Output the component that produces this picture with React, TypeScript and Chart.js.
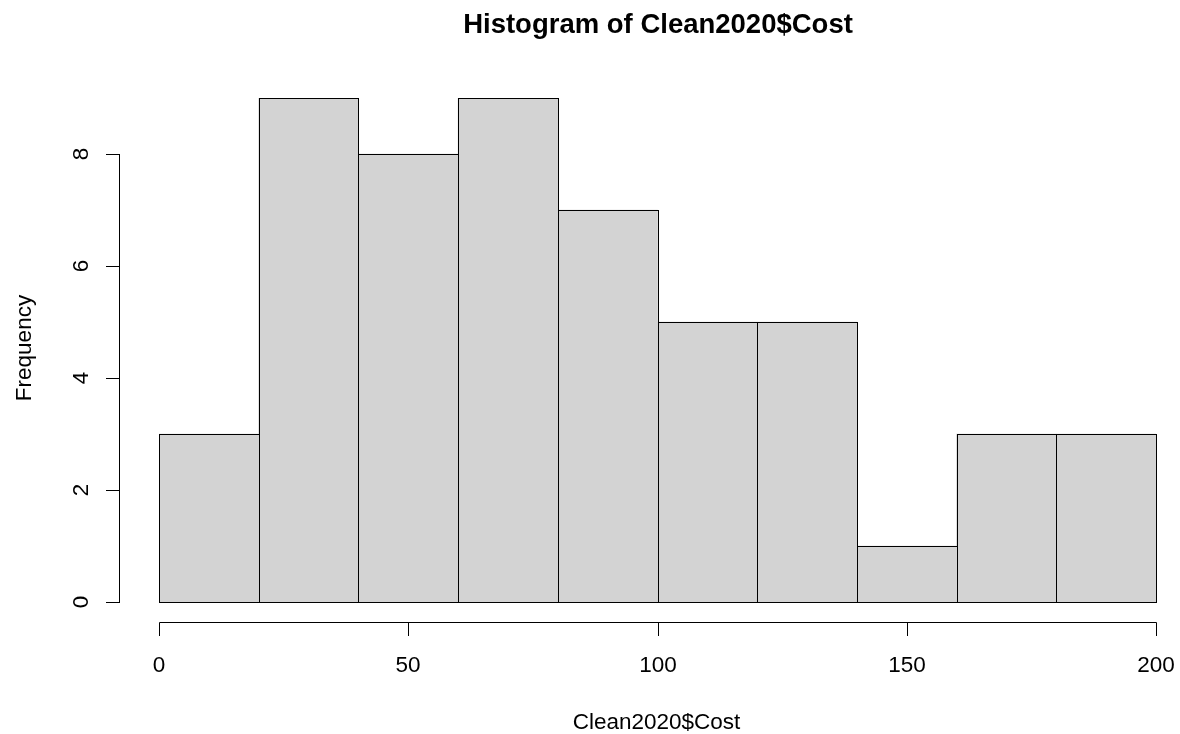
import React, { useEffect, useRef } from "react";
import { Chart, registerables } from "chart.js";

Chart.register(...registerables);

// Histogram bins (left edges), bin width and counts
const binStarts = [0, 20, 40, 60, 80, 100, 120, 140, 160, 180];
const binWidth = 20;
const frequencies = [3, 9, 8, 9, 7, 5, 5, 1, 3, 3];

// Axis tick values
const xTickValues = [0, 50, 100, 150, 200];
const yTickValues = [0, 2, 4, 6, 8];

const titleText = "Histogram of Clean2020$Cost";
const xLabel = "Clean2020$Cost";
const yLabel = "Frequency";

const FONT = '"Liberation Sans", Arial, Helvetica, sans-serif';
const LABEL_PX = 22.5;

// Outline every bar on crisp pixel rows/columns so that shared edges stay 1px
const barOutlines = {
  id: "barOutlines",
  afterDatasetsDraw(chart: any) {
    const { ctx } = chart;
    const meta = chart.getDatasetMeta(0);
    ctx.save();
    ctx.strokeStyle = "#000";
    ctx.lineWidth = 1;
    meta.data.forEach((bar: any) => {
      const { x, y, base, width } = bar.getProps(["x", "y", "base", "width"], true);
      const l = Math.round(x - width / 2) + 0.5;
      const r = Math.round(x + width / 2) + 0.5;
      const t = Math.round(y) + 0.5;
      const b = Math.round(base) + 0.5;
      ctx.strokeRect(l, t, r - l, b - t);
    });
    ctx.restore();
  },
};

// Detached axes, tick labels, title and axis titles
const detachedAxes = {
  id: "detachedAxes",
  afterDraw(chart: any) {
    const { ctx, chartArea, scales } = chart;
    const xs = scales.x;
    const ys = scales.y;
    ctx.save();
    ctx.strokeStyle = "#000";
    ctx.lineWidth = 1;
    ctx.fillStyle = "#000";

    // x axis
    const axisY = Math.round(chartArea.bottom) + 20.5;
    const xCols = xTickValues.map((v) => Math.round(xs.getPixelForValue(v)) + 0.5);
    ctx.beginPath();
    ctx.moveTo(xCols[0], axisY);
    ctx.lineTo(xCols[xCols.length - 1], axisY);
    xCols.forEach((c) => {
      ctx.moveTo(c, axisY);
      ctx.lineTo(c, axisY + 13.5);
    });
    ctx.stroke();

    ctx.font = `${LABEL_PX}px ${FONT}`;
    ctx.textAlign = "center";
    ctx.textBaseline = "alphabetic";
    xTickValues.forEach((v, i) => {
      ctx.fillText(String(v), xCols[i] - 0.5, axisY + 49.5);
    });

    // y axis
    const axisX = Math.round(chartArea.left) - 39.5;
    const yRows = yTickValues.map((v) => Math.round(ys.getPixelForValue(v)) + 0.5);
    ctx.beginPath();
    ctx.moveTo(axisX, yRows[0]);
    ctx.lineTo(axisX, yRows[yRows.length - 1]);
    yRows.forEach((r) => {
      ctx.moveTo(axisX + 0.5, r);
      ctx.lineTo(axisX - 13.5, r);
    });
    ctx.stroke();

    yTickValues.forEach((v, i) => {
      ctx.save();
      ctx.translate(axisX - 32, yRows[i] - 0.5);
      ctx.rotate(-Math.PI / 2);
      ctx.fillText(String(v), 0, 0);
      ctx.restore();
    });

    // axis titles
    const midX = (chartArea.left + chartArea.right) / 2;
    const midY = (chartArea.top + chartArea.bottom) / 2;
    ctx.fillText(xLabel, midX - 1, axisY + 106);

    ctx.save();
    ctx.translate(31, midY - 2);
    ctx.rotate(-Math.PI / 2);
    ctx.fillText(yLabel, 0, 0);
    ctx.restore();

    // main title
    ctx.font = `bold 27.5px ${FONT}`;
    ctx.fillText(titleText, midX + 0.5, 33);

    ctx.restore();
  },
};

export default function App() {
  const canvasRef = useRef<HTMLCanvasElement | null>(null);

  useEffect(() => {
    const canvas = canvasRef.current;
    if (!canvas) return;
    const chart = new Chart(canvas, {
      type: "bar",
      data: {
        datasets: [
          {
            data: binStarts.map((s, i) => ({ x: s + binWidth / 2, y: frequencies[i] })),
            backgroundColor: "#D3D3D3",
            borderWidth: 0,
            barPercentage: 1,
            categoryPercentage: 1,
          },
        ],
      },
      options: {
        responsive: false,
        animation: false,
        devicePixelRatio: 1,
        layout: { padding: { left: 159, right: 24, top: 98, bottom: 132 } },
        plugins: {
          legend: { display: false },
          tooltip: { enabled: false },
          title: { display: false },
        },
        scales: {
          x: {
            type: "linear",
            min: 0,
            max: 200,
            offset: false,
            display: false,
            ticks: { stepSize: 50 },
          },
          y: {
            type: "linear",
            min: 0,
            max: 9,
            display: false,
            ticks: { stepSize: 2 },
          },
        },
      },
      plugins: [barOutlines, detachedAxes],
    });
    return () => chart.destroy();
  }, []);

  return (
    <div style={{ position: "absolute", left: 0, top: 0, width: 1180, height: 734, background: "#fff" }}>
      <canvas ref={canvasRef} width={1180} height={734} style={{ display: "block" }} />
    </div>
  );
}
